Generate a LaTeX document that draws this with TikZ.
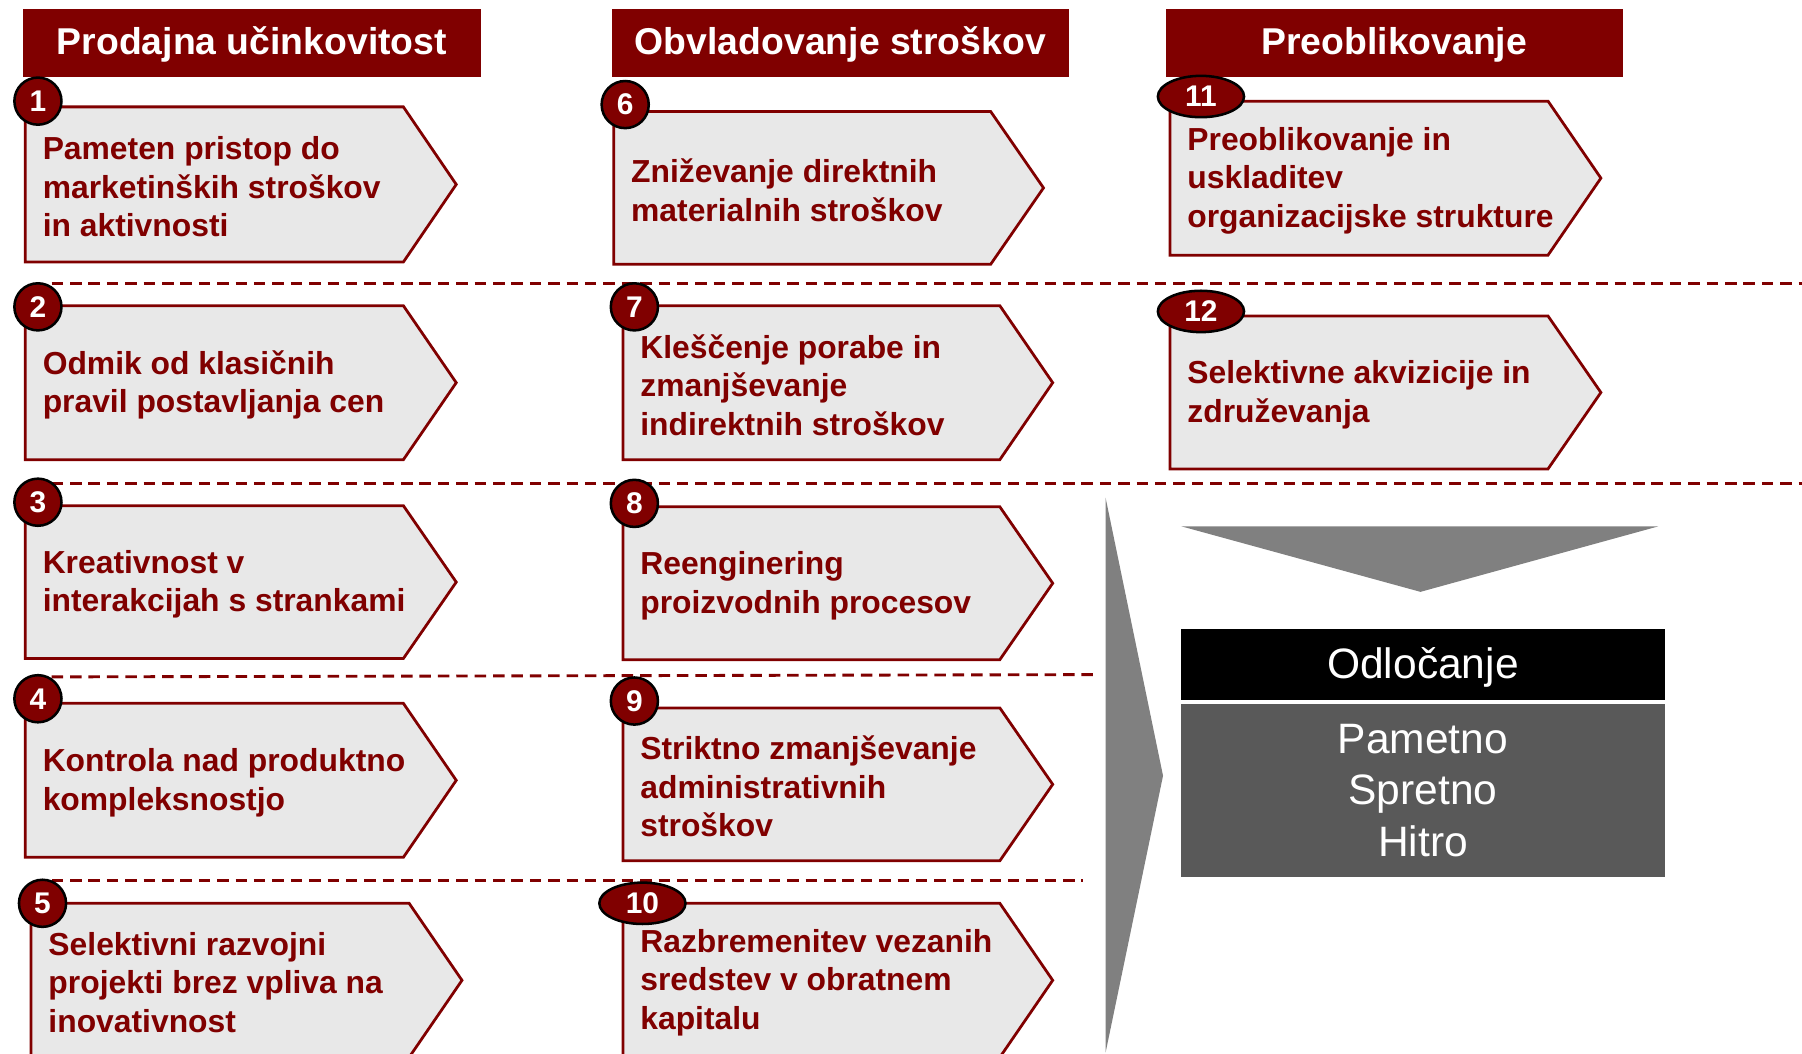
\documentclass[tikz,border=0pt]{standalone}
\usepackage{fontspec}
\setmainfont{Liberation Sans}
\usetikzlibrary{shapes.geometric}

\definecolor{maroon}{RGB}{128,0,0}
\definecolor{boxfill}{RGB}{232,232,232}
\definecolor{midgray}{RGB}{128,128,128}
\definecolor{darkgray}{RGB}{89,89,89}

% one pentagon-shaped step: name, left, top, bottom, tip x, text
\newcommand{\chevbox}[6]{%
  \path[stepshape] (#2,#3) -- (#5-46,#3) -- (#5,{(#3+#4)/2}) -- (#5-46,#4) -- (#2,#4) -- cycle;
  \node[steptext, anchor=west] (#1) at (#2+15,{(#3+#4)/2+2}) {#6};
}

\begin{document}
\begin{tikzpicture}[x=1pt, y=-1pt,
  header/.style={fill=maroon, text=white, inner sep=0pt, anchor=north west,
    text depth=4pt, font=\bfseries\fontsize{32.5}{38}\selectfont},
  stepshape/.style={draw=maroon, line width=2.4pt, fill=boxfill, line join=miter},
  steptext/.style={inner sep=0pt, align=left, text=maroon,
    font=\bfseries\fontsize{27.7}{33.5}\selectfont},
  rowsep/.style={draw=maroon, line width=2.5pt, dash pattern=on 10pt off 6pt},
  badge/.style={circle, draw=black, line width=2.2pt, fill=maroon, text=white,
    minimum size=41pt, inner sep=0pt, font=\bfseries\fontsize{26}{30}\selectfont},
  badgewide/.style={ellipse, draw=black, line width=2.2pt, fill=maroon, text=white,
    minimum width=75pt, minimum height=36pt, inner sep=0pt,
    font=\bfseries\fontsize{26}{30}\selectfont},
  panel/.style={text=white, inner sep=0pt, align=center, anchor=north west,
    font=\fontsize{37}{44.5}\selectfont}
]
\useasboundingbox (0,0) rectangle (1568,917);
\clip (0,0) rectangle (1568,917);

% column headers
\node[header, minimum width=398pt, minimum height=59pt] (h1) at (20,8) {Prodajna učinkovitost};
\node[header, minimum width=398pt, minimum height=59pt] (h2) at (532,8) {Obvladovanje stroškov};
\node[header, minimum width=398pt, minimum height=59pt] (h3) at (1014,8) {Preoblikovanje};

% dashed separators between rows
\coordinate (s1a) at (45,247);  \coordinate (s1b) at (1568,247);
\coordinate (s2a) at (45,421);  \coordinate (s2b) at (1568,421);
\coordinate (s3a) at (45,589);  \coordinate (s3b) at (955,587);
\coordinate (s4a) at (45,766);  \coordinate (s4b) at (942,766);
\draw[rowsep] (s1a) -- (s1b);
\draw[rowsep] (s2a) -- (s2b);
\draw[rowsep] (s3a) -- (s3b);
\draw[rowsep] (s4a) -- (s4b);

% column 1
\chevbox{t1}{22}{93}{228}{397}{Pameten pristop do\\marketinških stroškov\\in aktivnosti}
\chevbox{t2}{22}{266}{400}{397}{Odmik od klasičnih\\pravil postavljanja cen}
\chevbox{t3}{22}{440}{573}{397}{Kreativnost v\\interakcijah s strankami}
\chevbox{t4}{22}{612}{746}{397}{Kontrola nad produktno\\kompleksnostjo}
\chevbox{t5}{27}{786}{920}{402}{Selektivni razvojni\\projekti brez vpliva na\\inovativnost}

% column 2
\chevbox{t6}{534}{97}{230}{908}{Zniževanje direktnih\\materialnih stroškov}
\chevbox{t7}{542}{266}{400}{916}{Kleščenje porabe in\\zmanjševanje\\indirektnih stroškov}
\chevbox{t8}{542}{441}{574}{916}{Reenginering\\proizvodnih procesov}
\chevbox{t9}{542}{616}{749}{916}{Striktno zmanjševanje\\administrativnih\\stroškov}
\chevbox{t10}{542}{786}{920}{916}{Razbremenitev vezanih\\sredstev v obratnem\\kapitalu}

% column 3
\chevbox{t11}{1018}{88}{222}{1393}{Preoblikovanje in\\uskladitev\\organizacijske strukture}
\chevbox{t12}{1018}{275}{408}{1393}{Selektivne akvizicije in\\združevanja}

% numbered badges
\node[badge] (b1) at (33,88) {1};
\node[badge] (b2) at (33,267) {2};
\node[badge] (b3) at (33,437) {3};
\node[badge] (b4) at (33,608) {4};
\node[badge] (b5) at (37,786) {5};
\node[badge] (b6) at (544,91) {6};
\node[badge] (b7) at (552,267) {7};
\node[badge] (b8) at (552,438) {8};
\node[badge] (b9) at (552,610) {9};
\node[badgewide] (b10) at (559,786) {10};
\node[badgewide] (b11) at (1045,84) {11};
\node[badgewide] (b12) at (1045,271) {12};

% large grey chevron pointing to the decision panel
\coordinate (cvTop) at (962,433);
\coordinate (cvTip) at (1012,675);
\coordinate (cvBot) at (962,916);
\fill[midgray] (cvTop) -- (cvTip) -- (cvBot) -- cycle;

% downward triangle above the panel
\coordinate (trL) at (1028,458);
\coordinate (trR) at (1443,458);
\coordinate (trB) at (1236,515);
\fill[midgray] (trL) -- (trR) -- (trB) -- cycle;

% decision panel
\node[panel, fill=black, minimum width=422pt, minimum height=62pt, text depth=2pt] (dec) at (1027,547) {Odločanje};
\node[panel, fill=darkgray, minimum width=422pt, minimum height=151pt, text depth=0pt] (ways) at (1027,612) {Pametno\\Spretno\\Hitro};
\end{tikzpicture}
\end{document}
